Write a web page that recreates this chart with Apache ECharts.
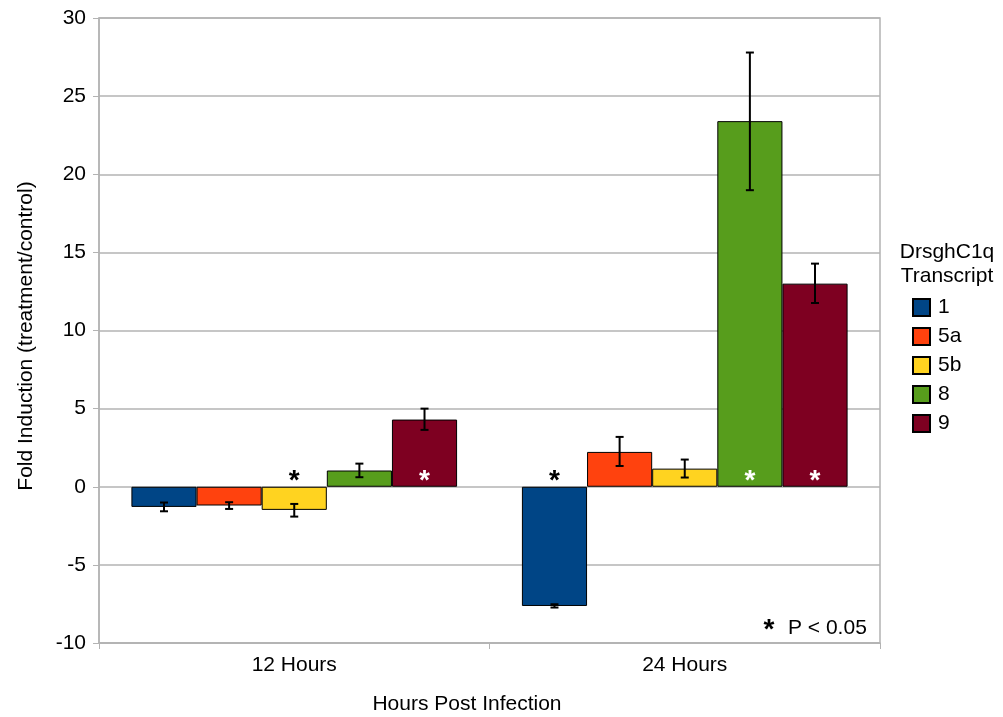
<!DOCTYPE html>
<html>
<head>
<meta charset="utf-8">
<script src="https://cdn.jsdelivr.net/npm/echarts@6/dist/echarts.min.js"></script>
<style>
html,body{margin:0;padding:0;background:#fff;}
#chart{width:1003px;height:717px;}
</style>
</head>
<body>
<div id="chart"></div>
<script>
const categories = ['12 Hours', '24 Hours'];
const transcripts = ['1', '5a', '5b', '8', '9'];
const fold1  = [-1.29, -7.63];
const fold5a = [-1.20, 2.23];
const fold5b = [-1.48, 1.16];
const fold8  = [1.04, 23.40];
const fold9  = [4.30, 13.00];
const errLow1  = [-1.57, -7.73], errHigh1  = [-1.01, -7.52];
const errLow5a = [-1.42, 1.33],  errHigh5a = [-0.99, 3.19];
const errLow5b = [-1.91, 0.59],  errHigh5b = [-1.10, 1.74];
const errLow8  = [0.61, 18.98],  errHigh8  = [1.48, 27.79];
const errLow9  = [3.64, 11.76],  errHigh9  = [5.00, 14.28];
const sig1  = [false, true];
const sig5a = [false, false];
const sig5b = [true, false];
const sig8  = [false, true];
const sig9  = [true, true];
const yTicks = { min: -10, max: 30, interval: 5 };

const colors = ['#004586', '#ff420e', '#ffd320', '#579d1c', '#7e0021'];
const FONT = "'Liberation Sans', Arial, sans-serif";
const GAP = 0.166;

const folds = [fold1, fold5a, fold5b, fold8, fold9];
const lows = [errLow1, errLow5a, errLow5b, errLow8, errLow9];
const highs = [errHigh1, errHigh5a, errHigh5b, errHigh8, errHigh9];
const sigs = [sig1, sig5a, sig5b, sig8, sig9];

const barSeries = transcripts.map((name, s) => ({
  name: name,
  type: 'bar',
  barGap: '0%',
  barCategoryGap: (GAP * 100) + '%',
  itemStyle: { color: colors[s], borderColor: '#000', borderWidth: 1 },
  data: folds[s].map((v, i) => ({
    value: v,
    label: {
      show: sigs[s][i],
      formatter: '*',
      position: v < 0 ? 'top' : 'insideBottom',
      distance: 0,
      offset: [0, 9],
      color: v < 0 ? '#000' : '#fff',
      fontSize: 28,
      fontWeight: 'bold',
      fontFamily: FONT
    }
  }))
}));

const errData = [];
transcripts.forEach((name, s) => {
  categories.forEach((c, i) => {
    errData.push([i, lows[s][i], highs[s][i], s]);
  });
});

const errSeries = {
  type: 'custom',
  z: 10,
  encode: { x: 0, y: [1, 2] },
  data: errData,
  renderItem: function (params, api) {
    const cat = api.value(0);
    const s = api.value(3);
    const band = api.size([1, 0])[0];
    const total = band * (1 - GAP);
    const barW = total / transcripts.length;
    const pLo = api.coord([cat, api.value(1)]);
    const pHi = api.coord([cat, api.value(2)]);
    const x = pLo[0] - total / 2 + barW * (s + 0.5);
    const hw = 4;
    const st = { stroke: '#000', lineWidth: 2 };
    return {
      type: 'group',
      children: [
        { type: 'line', shape: { x1: x, y1: pLo[1], x2: x, y2: pHi[1] }, style: st },
        { type: 'line', shape: { x1: x - hw, y1: pLo[1], x2: x + hw, y2: pLo[1] }, style: st },
        { type: 'line', shape: { x1: x - hw, y1: pHi[1], x2: x + hw, y2: pHi[1] }, style: st }
      ]
    };
  }
};

const chart = echarts.init(document.getElementById('chart'));
chart.setOption({
  animation: false,
  backgroundColor: '#fff',
  textStyle: { fontFamily: FONT },
  grid: { left: 99, right: 123, top: 18, bottom: 74, show: true, borderColor: '#b3b3b3', borderWidth: 1.5 },
  legend: {
    data: transcripts,
    orient: 'vertical',
    left: 912,
    top: 297,
    padding: 0,
    itemWidth: 17,
    itemHeight: 17,
    itemGap: 8,
    icon: 'rect',
    textStyle: { fontSize: 21, color: '#000', fontFamily: FONT, padding: [0, 0, 0, 3] }
  },
  xAxis: {
    type: 'category',
    data: categories,
    boundaryGap: true,
    axisLine: { show: true, onZero: false, lineStyle: { color: '#b3b3b3', width: 1.5 } },
    axisTick: { show: true, length: 6, alignWithLabel: false, lineStyle: { color: '#b3b3b3' } },
    axisLabel: { fontSize: 21, color: '#000', margin: 12, fontFamily: FONT },
    splitLine: { show: false }
  },
  yAxis: {
    type: 'value',
    min: yTicks.min,
    max: yTicks.max,
    interval: yTicks.interval,
    axisLine: { show: true, lineStyle: { color: '#b3b3b3', width: 1.5 } },
    axisTick: { show: true, length: 6, lineStyle: { color: '#b3b3b3' } },
    axisLabel: { fontSize: 21, color: '#000', margin: 13, fontFamily: FONT },
    splitLine: { show: true, lineStyle: { color: '#b3b3b3', width: 1.5 } }
  },
  graphic: [
    { type: 'text', x: 26, y: 336, rotation: Math.PI / 2,
      style: { text: 'Fold Induction (treatment/control)', fontSize: 21, fill: '#000', fontFamily: FONT, align: 'center', verticalAlign: 'middle' } },
    { type: 'text', x: 467, y: 704,
      style: { text: 'Hours Post Infection', fontSize: 21, fill: '#000', fontFamily: FONT, align: 'center', verticalAlign: 'middle' } },
    { type: 'text', x: 947, y: 252,
      style: { text: 'DrsghC1q', fontSize: 21, fill: '#000', fontFamily: FONT, align: 'center', verticalAlign: 'middle' } },
    { type: 'text', x: 947, y: 276,
      style: { text: 'Transcript', fontSize: 21, fill: '#000', fontFamily: FONT, align: 'center', verticalAlign: 'middle' } },
    { type: 'text', x: 769, y: 630, z: 20,
      style: { text: '*', fontSize: 28, fontWeight: 'bold', fill: '#000', fontFamily: FONT, align: 'center', verticalAlign: 'middle' } },
    { type: 'text', x: 788, y: 628, z: 20,
      style: { text: 'P < 0.05', fontSize: 21, fill: '#000', fontFamily: FONT, align: 'left', verticalAlign: 'middle' } }
  ],
  series: barSeries.concat([errSeries])
});
</script>
</body>
</html>
